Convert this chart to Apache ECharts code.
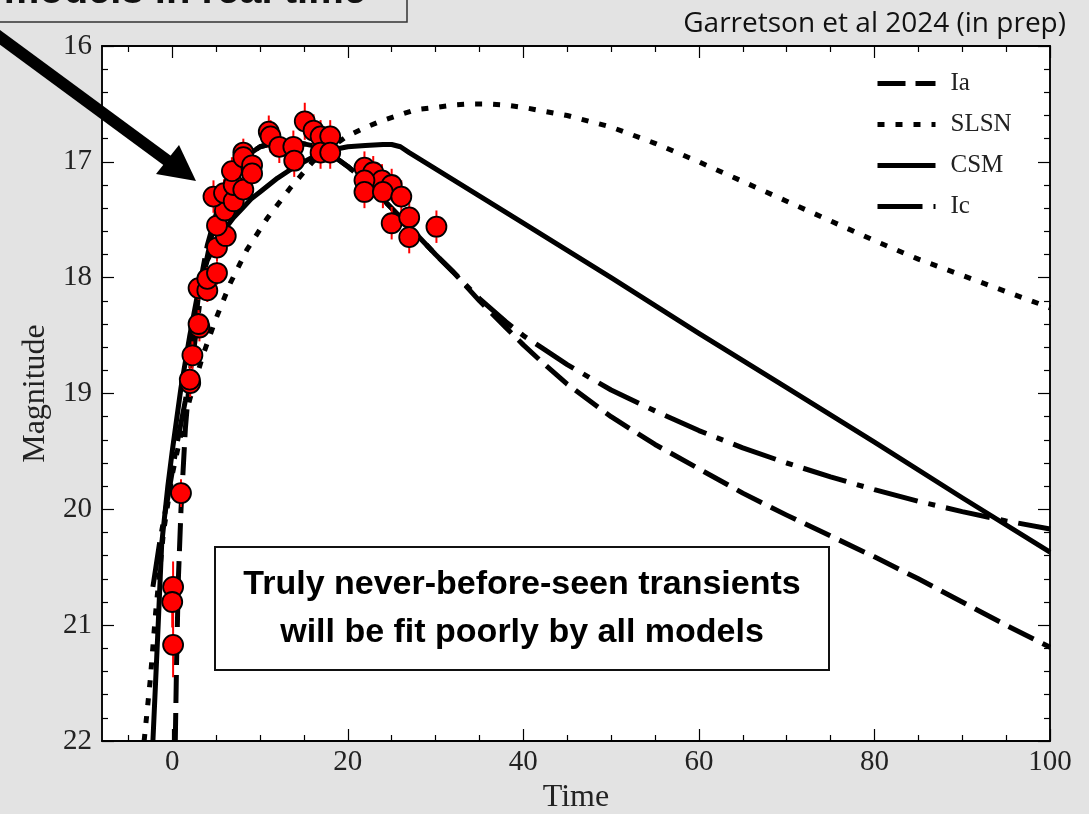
<!DOCTYPE html>
<html>
<head>
<meta charset="utf-8">
<script src="https://cdn.jsdelivr.net/npm/echarts@6/dist/echarts.min.js"></script>
<style>
  html, body { margin: 0; padding: 0; background: #e3e3e3; }
  #chart { width: 1089px; height: 814px; }
</style>
</head>
<body>
<div id="chart"></div>
<script>
// Observed photometry: time (days), magnitude, 1-sigma error
const obsTime = [0.1, 0.0, 0.1, 1.0, 2.05, 2.0, 2.3, 3.1, 3.0, 3.0, 4.0, 4.0, 5.1, 5.1, 6.1, 5.1, 6.0, 4.7, 5.9, 7.0,
  7.0, 6.8, 8.1, 8.1, 8.1, 9.1, 9.1, 11.0, 11.2, 12.2, 13.8, 13.9, 15.1, 16.1, 16.9, 18.0, 16.9, 18.0,
  21.9, 22.9, 23.9, 25.0, 21.9, 21.9, 24.0, 26.1, 25.0, 27.0, 27.0, 30.1];
const obsMag = [20.67, 20.80, 21.17, 19.86, 18.91, 18.88, 18.67, 18.43, 18.40, 18.09, 18.11, 18.01, 17.96, 17.74, 17.64, 17.55, 17.42, 17.30, 17.27, 17.34,
  17.20, 17.08, 17.24, 16.92, 16.96, 17.03, 17.10, 16.74, 16.78, 16.87, 16.87, 16.99, 16.65, 16.73, 16.78, 16.78, 16.92, 16.92,
  17.05, 17.09, 17.16, 17.20, 17.16, 17.26, 17.26, 17.30, 17.53, 17.48, 17.65, 17.56];
const obsErr = [0.22, 0.22, 0.28, 0.12, 0.12, 0.12, 0.12, 0.12, 0.12, 0.10, 0.10, 0.10, 0.10, 0.12, 0.12, 0.12, 0.12, 0.14, 0.12, 0.12,
  0.12, 0.12, 0.12, 0.12, 0.12, 0.12, 0.12, 0.14, 0.14, 0.14, 0.14, 0.14, 0.16, 0.14, 0.14, 0.14, 0.14, 0.14,
  0.14, 0.14, 0.14, 0.14, 0.14, 0.14, 0.14, 0.14, 0.14, 0.14, 0.14, 0.14];

// Model light curves
const iaTime = [0.35, 0.5, 0.7, 1.0, 1.5, 2, 2.5, 3, 3.5, 4, 5, 6, 7, 8, 9, 10, 12, 14, 16, 18, 20, 22, 25, 28, 30, 32, 35, 38, 40, 42, 45, 50, 55, 60, 65, 70, 75, 80, 85, 90, 95, 100];
const iaMag  = [22.0, 21.3, 20.6, 20.0, 19.3, 18.85, 18.47, 18.15, 17.92, 17.72, 17.45, 17.26, 17.12, 17.0, 16.92, 16.87, 16.83, 16.83, 16.86, 16.93, 17.04, 17.17, 17.4, 17.64, 17.8, 17.95, 18.2, 18.43, 18.58, 18.72, 18.92, 19.2, 19.44, 19.65, 19.86, 20.05, 20.23, 20.41, 20.6, 20.8, 21.0, 21.19];

const slsnTime = [-3.2, -2.5, -1.9, -1, 0, 1, 2, 3.5, 4.9, 6.6, 8.5, 10.8, 13.4, 16, 18, 19.9, 21.8, 23.7, 25.7, 27.7, 30, 32, 34, 36, 38, 40, 45, 50, 55, 60, 65, 70, 75, 80, 85, 90, 95, 100];
const slsnMag  = [22.0, 21.47, 20.9, 20.2, 19.7, 19.35, 19.05, 18.67, 18.37, 18.05, 17.76, 17.49, 17.23, 17.0, 16.88, 16.78, 16.71, 16.65, 16.6, 16.55, 16.53, 16.51, 16.5, 16.5, 16.51, 16.53, 16.6, 16.7, 16.84, 17.0, 17.17, 17.34, 17.51, 17.68, 17.84, 17.98, 18.12, 18.26];

const csmTime = [-2.2, -1.6, -1.2, -0.5, 0, 1, 2, 3, 4, 5, 6, 7, 8, 9, 10, 12, 14, 16, 18, 20, 22, 24, 25, 26, 27, 30, 40, 50, 60, 70, 80, 90, 100];
const csmMag  = [22.0, 21.0, 20.3, 19.8, 19.5, 18.95, 18.5, 18.1, 17.85, 17.7, 17.58, 17.48, 17.4, 17.32, 17.26, 17.14, 17.04, 16.96, 16.9, 16.87, 16.86, 16.85, 16.85, 16.87, 16.92, 17.06, 17.53, 18.0, 18.48, 18.95, 19.42, 19.9, 20.37];

const icTime = [-2.2, -1.4, -0.5, 0.5, 1.5, 2.5, 3.5, 5, 6, 7, 8, 9, 10, 12, 14, 16, 18, 20, 22, 25, 28, 30, 32, 35, 38, 40, 42, 45, 50, 55, 60, 65, 70, 75, 80, 85, 90, 95, 100];
const icMag  = [20.67, 20.27, 19.9, 19.45, 19.06, 18.6, 18.0, 17.45, 17.26, 17.12, 17.0, 16.92, 16.87, 16.83, 16.83, 16.86, 16.93, 17.04, 17.17, 17.4, 17.64, 17.8, 17.95, 18.18, 18.38, 18.5, 18.6, 18.75, 18.97, 19.15, 19.32, 19.47, 19.6, 19.72, 19.83, 19.93, 20.02, 20.1, 20.17];

// Axis tick positions
const xMajorTicks = [0, 20, 40, 60, 80, 100];
const xMinorTicks = [-5, 5, 10, 15, 25, 30, 35, 45, 50, 55, 65, 70, 75, 85, 90, 95];
const yRange = [16, 22];

const zip = (a, b) => a.map((v, i) => [v, b[i]]);
const serif = 'Liberation Serif';
const tickFont = 29;
const titleFont = 32;

const chart = echarts.init(document.getElementById('chart'));

function xAxisDef(position, ticks, len, labels) {
  return {
    type: 'value', min: -8, max: 100, position: position,
    axisLine: { show: true, onZero: false, lineStyle: { color: '#000', width: 1.5 } },
    axisTick: { show: true, inside: true, length: len, customValues: ticks, lineStyle: { color: '#000', width: 1.2 } },
    axisLabel: labels ? { show: true, customValues: ticks, fontFamily: serif, fontSize: tickFont, color: '#222', margin: 7 } : { show: false },
    splitLine: { show: false },
    name: labels ? 'Time' : '', nameLocation: 'middle', nameGap: 40,
    nameTextStyle: { fontFamily: serif, fontSize: titleFont, color: '#222' }
  };
}
function yAxisDef(position, labels) {
  return {
    type: 'value', min: yRange[0], max: yRange[1], interval: 1, inverse: true, position: position,
    axisLine: { show: true, onZero: false, lineStyle: { color: '#000', width: 1.5 } },
    axisTick: { show: true, inside: true, length: 12, lineStyle: { color: '#000', width: 1.2 } },
    minorTick: { show: true, splitNumber: 5, length: 6, lineStyle: { color: '#000', width: 1.2 } },
    axisLabel: labels ? { show: true, fontFamily: serif, fontSize: tickFont, color: '#222', margin: 10 } : { show: false },
    splitLine: { show: false }, minorSplitLine: { show: false },
    name: labels ? 'Magnitude' : '', nameLocation: 'middle', nameGap: 50, nameRotate: 90,
    nameTextStyle: { fontFamily: serif, fontSize: titleFont, color: '#222' }
  };
}

function modelLine(name, t, m, dash) {
  return {
    name: name, type: 'line', xAxisIndex: 0, yAxisIndex: 0,
    data: zip(t, m), symbol: 'none', showSymbol: false, smooth: false,
    lineStyle: { color: '#000', width: 5, type: dash, cap: 'butt', join: 'round' },
    itemStyle: { color: '#000' }, clip: true, z: 3, silent: true
  };
}

const option = {
  animation: false,
  backgroundColor: '#e3e3e3',
  grid: { left: 102, top: 46, width: 948, height: 695, containLabel: false, outerBoundsMode: 'none',
          show: true, backgroundColor: '#fff', borderColor: '#000', borderWidth: 1.5 },
  xAxis: [
    xAxisDef('bottom', xMajorTicks, 12, true),
    xAxisDef('bottom', xMinorTicks, 6, false),
    xAxisDef('top', xMajorTicks, 12, false),
    xAxisDef('top', xMinorTicks, 6, false)
  ],
  yAxis: [yAxisDef('left', true), yAxisDef('right', false)],
  legend: {
    data: ['Ia', 'SLSN', 'CSM', 'Ic'], orient: 'vertical', left: 870, top: 66,
    itemWidth: 58, itemHeight: 14, itemGap: 16,
    textStyle: { fontFamily: serif, fontSize: 25, color: '#222', lineHeight: 25, padding: [0, 0, 0, 10] },
    lineStyle: { width: 5 },
    itemStyle: { opacity: 0 }
  },
  series: [
    modelLine('Ia', iaTime, iaMag, [28, 10]),
    modelLine('SLSN', slsnTime, slsnMag, [7, 11]),
    modelLine('CSM', csmTime, csmMag, 'solid'),
    modelLine('Ic', icTime, icMag, [45, 11, 7, 11]),
    {
      name: 'err', type: 'custom', xAxisIndex: 0, yAxisIndex: 0, z: 4, silent: true,
      data: obsTime.map((t, i) => [t, obsMag[i], obsErr[i]]),
      renderItem: function (params, api) {
        const t = api.value(0), m = api.value(1), e = api.value(2);
        const p1 = api.coord([t, m - e]);
        const p2 = api.coord([t, m + e]);
        return { type: 'line', shape: { x1: p1[0], y1: p1[1], x2: p2[0], y2: p2[1] },
                 style: { stroke: '#ff0000', lineWidth: 2 } };
      }
    },
    {
      name: 'obs', type: 'scatter', xAxisIndex: 0, yAxisIndex: 0, z: 5, silent: true,
      data: zip(obsTime, obsMag), symbol: 'circle', symbolSize: 20,
      itemStyle: { color: '#ff0000', borderColor: '#000', borderWidth: 1.8, opacity: 1 }
    }
  ],
  graphic: [
    // clipped caption box at the top left
    { type: 'polyline', z: 20, shape: { points: [[0, 22], [407, 22], [407, -2]] }, style: { stroke: '#333', lineWidth: 1.5, fill: null } },
    { type: 'text', z: 20, x: 366, y: 12, style: { text: 'models in real time', font: 'bold 40px "Liberation Sans", Arial, sans-serif', fill: '#111', textAlign: 'right', textVerticalAlign: 'bottom' } },
    // arrow pointing at the rising light curve
    { type: 'line', z: 20, shape: { x1: -10, y1: 30, x2: 172, y2: 164 }, style: { stroke: '#000', lineWidth: 12 } },
    { type: 'polygon', z: 20, shape: { points: [[196, 181], [156, 174], [179, 145]] }, style: { fill: '#000' } },
    // attribution
    { type: 'text', z: 20, x: 1066, y: 24, style: { text: 'Garretson et al 2024 (in prep)', font: '28px "Open Sans", "Noto Sans", sans-serif', fill: '#111', textAlign: 'right', textVerticalAlign: 'middle' } },
    // callout box
    { type: 'rect', z: 20, shape: { x: 215, y: 547, width: 614, height: 123 }, style: { fill: '#fff', stroke: '#111', lineWidth: 2 } },
    { type: 'text', z: 21, x: 522, y: 585, style: { text: 'Truly never-before-seen transients', font: 'bold 34px "Liberation Sans", Arial, sans-serif', fill: '#000', textAlign: 'center', textVerticalAlign: 'middle' } },
    { type: 'text', z: 21, x: 522, y: 633, style: { text: 'will be fit poorly by all models', font: 'bold 34px "Liberation Sans", Arial, sans-serif', fill: '#000', textAlign: 'center', textVerticalAlign: 'middle' } }
  ]
};
chart.setOption(option);
</script>
</body>
</html>
